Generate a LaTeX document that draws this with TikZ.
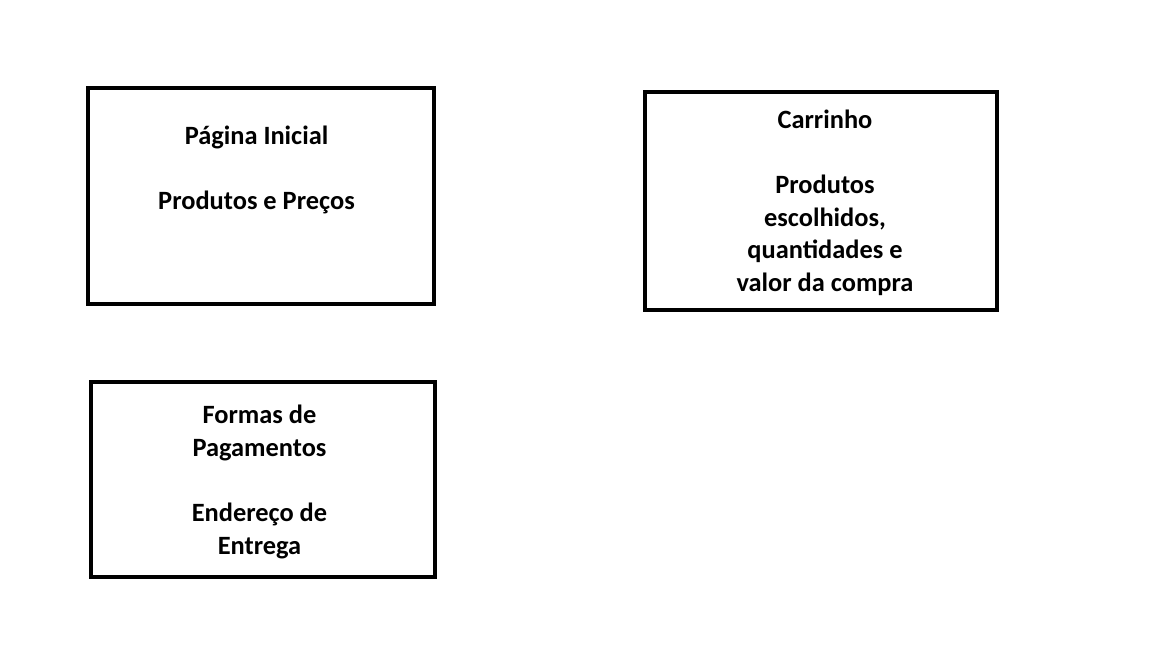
\documentclass[tikz,border=0pt]{standalone}
\usepackage{fontspec}
\setmainfont{Carlito}
\begin{document}
\begin{tikzpicture}[x=0.75pt,y=-0.75pt,
  box/.style={draw=black,line width=3pt,fill=none},
  label/.style={align=center,font=\bfseries\fontsize{19.8}{24.4}\selectfont,inner sep=0pt}]
\useasboundingbox (0,0) rectangle (1152,648);
\fill[white] (0,0) rectangle (1152,648);
\draw[box] (88,88) rectangle (434,304) coordinate (b1);
\draw[box] (645,92) rectangle (997,310) coordinate (b2);
\draw[box] (91,382) rectangle (435,577) coordinate (b3);
\node[label] (t1) at (256.5,169.5) {Página Inicial\\ ~ \\Produtos e Preços};
\node[label] (t2) at (825,203) {Carrinho\\ ~ \\Produtos\\escolhidos,\\quantidades e\\valor da compra};
\node[label] (t3) at (259.5,482) {Formas de\\Pagamentos\\ ~ \\Endereço de\\Entrega};
\end{tikzpicture}
\end{document}
